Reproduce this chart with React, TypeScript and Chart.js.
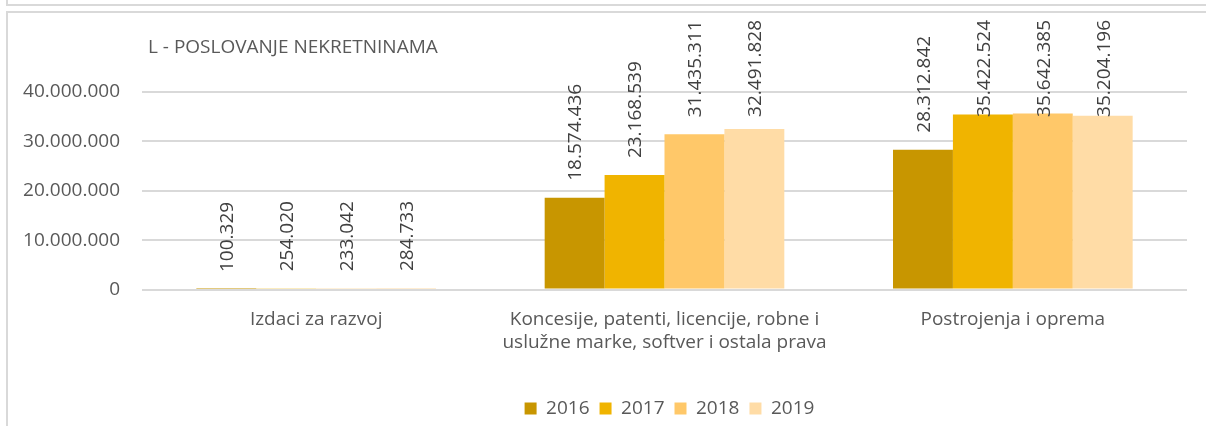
import React, { useEffect, useRef } from "react";
import { Chart, registerables } from "chart.js";

Chart.register(...registerables);

const categories: (string | string[])[] = [
  "Izdaci za razvoj",
  ["Koncesije, patenti, licencije, robne i", "uslužne marke, softver i ostala prava"],
  "Postrojenja i oprema",
];
const years = ["2016", "2017", "2018", "2019"];
const values2016 = [100329, 18574436, 28312842];
const values2017 = [254020, 23168539, 35422524];
const values2018 = [233042, 31435311, 35642385];
const values2019 = [284733, 32491828, 35204196];
const colors = ["#C89600", "#F0B400", "#FFC869", "#FFDCA6"];
const titleText = "L - POSLOVANJE NEKRETNINAMA";
const yMax = 40000000;
const yStep = 10000000;

const FONT = "'Open Sans', 'Noto Sans', sans-serif";
const FS = 19;
const fmt = (v: number) => String(Math.round(v)).replace(/\B(?=(\d{3})+(?!\d))/g, ".");

const CW = 1339;
const CH = 428;
const PLOT_BOTTOM = 289.5;
const PLOT_RIGHT = 1187;
const LEGEND_CENTER = 669.5;

const labelPlugin = {
  id: "barLabels",
  afterDatasetsDraw(chart: any) {
    const ctx = chart.ctx;
    ctx.save();
    ctx.font = `${FS}px ${FONT}`;
    ctx.fillStyle = "#404040";
    ctx.textAlign = "left";
    ctx.textBaseline = "alphabetic";
    chart.data.datasets.forEach((ds: any, di: number) => {
      const meta = chart.getDatasetMeta(di);
      meta.data.forEach((bar: any, i: number) => {
        const txt = fmt(ds.data[i]);
        const w = ctx.measureText(txt).width;
        const start = Math.max(bar.y - 17, 20 + w);
        ctx.save();
        ctx.translate(bar.x, start);
        ctx.rotate(-Math.PI / 2);
        ctx.fillText(txt, 0, 6.8);
        ctx.restore();
      });
    });
    ctx.restore();
  },
};

const titlePlugin = {
  id: "customTitle",
  afterDraw(chart: any) {
    const ctx = chart.ctx;
    ctx.save();
    ctx.font = `${FS}px ${FONT}`;
    ctx.fillStyle = "#595959";
    ctx.textAlign = "left";
    ctx.textBaseline = "middle";
    ctx.fillText(titleText, 148, 48);
    ctx.restore();
  },
};

const legendShift = {
  id: "legendShift",
  afterLayout(chart: any) {
    const lg = chart.legend;
    if (!lg) return;
    const d = LEGEND_CENTER - (lg.left + lg.right) / 2;
    lg.left += d;
    lg.right += d;
    if (lg.legendHitBoxes) lg.legendHitBoxes.forEach((h: any) => (h.left += d));
  },
};

export default function App() {
  const ref = useRef<HTMLCanvasElement | null>(null);

  useEffect(() => {
    if (!ref.current) return;
    const series = [values2016, values2017, values2018, values2019];
    const chart = new Chart(ref.current, {
      type: "bar",
      data: {
        labels: categories,
        datasets: years.map((y, i) => ({
          label: y,
          data: series[i],
          backgroundColor: colors[i],
          borderWidth: 0,
          categoryPercentage: 0.688,
          barPercentage: 1,
        })),
      },
      options: {
        responsive: false,
        animation: false,
        layout: { padding: { top: 92, right: CW - PLOT_RIGHT, bottom: 0, left: 0 } },
        plugins: {
          title: { display: false },
          tooltip: { enabled: false },
          legend: {
            display: true,
            position: "bottom",
            labels: {
              boxWidth: 12,
              boxHeight: 12,
              padding: 10,
              color: "#595959",
              font: { family: FONT, size: FS },
            },
          },
        },
        scales: {
          x: {
            grid: { display: false, drawTicks: false },
            border: { display: false },
            ticks: {
              color: "#595959",
              font: { family: FONT, size: FS },
              padding: 19,
              maxRotation: 0,
              autoSkip: false,
            },
            afterFit: (scale: any) => {
              const lh = scale.chart.legend ? scale.chart.legend.height : 49;
              scale.height = CH - lh - PLOT_BOTTOM;
            },
          },
          y: {
            min: 0,
            max: yMax,
            grid: { color: "#D9D9D9", lineWidth: 2, drawTicks: false },
            border: { display: false },
            ticks: {
              stepSize: yStep,
              color: "#595959",
              font: { family: FONT, size: FS },
              padding: 22,
              callback: (v: any) => fmt(Number(v)),
            },
            afterFit: (scale: any) => {
              scale.width = 142;
            },
          },
        },
      } as any,
      plugins: [labelPlugin, titlePlugin, legendShift],
    });
    return () => chart.destroy();
  }, []);

  return (
    <div
      style={{
        position: "absolute",
        left: 0,
        top: 0,
        width: 1206,
        height: 426,
        overflow: "hidden",
        background: "#fff",
      }}
    >
      <div
        style={{
          position: "absolute",
          left: 6,
          top: -10,
          width: 1400,
          height: 14,
          borderLeft: "2px solid #D9D9D9",
          borderBottom: "2px solid #D9D9D9",
        }}
      />
      <div
        style={{
          position: "absolute",
          left: 6,
          top: 11,
          width: 1400,
          height: 600,
          borderLeft: "2px solid #D9D9D9",
          borderTop: "2px solid #D9D9D9",
        }}
      />
      <canvas
        ref={ref}
        width={CW}
        height={CH}
        style={{ position: "absolute", left: 0, top: 0, width: CW, height: CH }}
      />
    </div>
  );
}
